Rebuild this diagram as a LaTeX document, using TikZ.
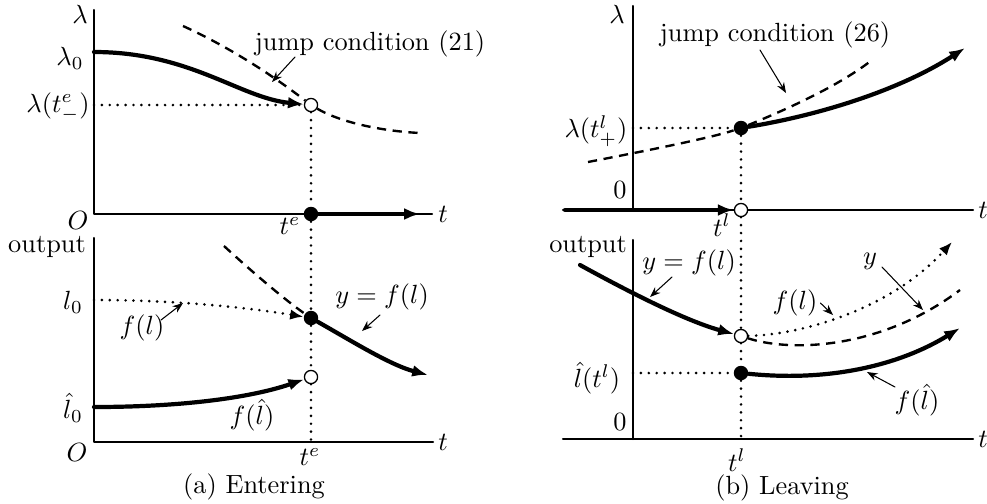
\documentclass[tikz,border=0pt]{standalone}
\usepackage{amsmath}
\usetikzlibrary{arrows.meta}

\begin{document}
\begin{tikzpicture}[x=0.38pt, y=-0.38pt, line cap=round, line join=round,
    every node/.style={inner sep=1pt},
    axis/.style={line width=0.8pt},
    curve/.style={line width=1.6pt},
    guide/.style={line width=1.1pt, dash pattern=on 0pt off 3pt, line cap=round},
    jump/.style={line width=0.9pt, dash pattern=on 3.5pt off 2.5pt, line cap=butt},
    tip/.style={-{Latex[length=6pt, width=4.5pt]}},
    pointer/.style={-{Stealth[length=4pt, width=3pt]}, line width=0.4pt},
    opendot/.style={circle, draw, fill=white, line width=0.5pt, inner sep=0pt, minimum size=5pt},
    fulldot/.style={circle, fill, inner sep=0pt, minimum size=5.5pt}]

    % picture size (pixels of the reference)
    \useasboundingbox (0,0) rectangle (987,503);

    % ---------- (a) entering, lambda panel ----------
    \draw[axis] (94,10) -- (94,214) -- (432,214);
    \node (aLam) at (80,14) {$\lambda$};
    \node (aT1) at (443,214) {$t$};
    \node (aO1) at (78,220) {$O$};
    \node (aLam0) at (70,58) {$\lambda_0$};
    \node (aLamE) at (58,107) {$\lambda(t^e_-)$};
    \node (aTe1) at (290,226) {$t^e$};

    \node[opendot] (aJump) at (311,105) {};
    \node[fulldot] (aEnter) at (311,214) {};

    % jump condition (dashed, behind the open dot)
    \draw[jump] (183,26) .. controls (240,52) and (285,85) .. (aJump);
    \draw[jump] (aJump) .. controls (340,122) and (380,131) .. (420,133);
    \draw[guide] (94,105) -- (aJump);
    \draw[curve, tip] (94,52) .. controls (190,52) and (240,98) .. (aJump);
    \draw[curve, tip] (aEnter) -- (420,214);

    \node (aJc) at (370,44) {jump condition (21)};
    \coordinate (aJcTail) at (295,57);
    \coordinate (aJcTip) at (272,82);
    \draw[pointer] (aJcTail) -- (aJcTip);

    % ---------- (a) entering, output panel ----------
    \draw[axis] (94,238) -- (94,442) -- (433,442);
    \node (aOut) at (47,247) {output};
    \node (aT2) at (443,442) {$t$};
    \node (aO2) at (77,452) {$O$};
    \node (aL0) at (73,302) {$l_0$};
    \node (aLh0) at (73,408) {$\hat{l}_0$};
    \node (aTe2) at (310,457) {$t^e$};
    \node (aCap) at (254,487) {(a) Entering};

    \node[fulldot] (aHit) at (311,318) {};
    \node[opendot] (aHat) at (311,377) {};

    \draw[jump] (224,246) .. controls (250,270) and (285,300) .. (aHit);
    \draw[guide, -{Latex[length=5pt, width=4pt]}] (94,300) .. controls (180,300) and (250,308) .. (aHit);
    \draw[curve, tip] (aHit) .. controls (350,340) and (390,365) .. (428,375);
    \draw[curve, tip] (94,407) .. controls (180,407) and (250,398) .. (aHat);

    \node (aFl) at (142,328) {$f(l)$};
    \coordinate (aFlTail) at (161,320);
    \coordinate (aFlTip) at (183,303);
    \draw[pointer] (aFlTail) -- (aFlTip);
    \node (aYf) at (382,297) {$y=f(l)$};
    \coordinate (aYfTail) at (380,315);
    \coordinate (aYfTip) at (362,331);
    \draw[pointer] (aYfTail) -- (aYfTip);
    \node (aFh) at (252,415) {$f(\hat{l})$};

    % dotted line at t^e
    \coordinate (aTeAxis) at (311,442);
    \draw[guide] (aJump) -- (aEnter);
    \draw[guide] (aEnter) -- (aHit);
    \draw[guide] (aHit) -- (aHat);
    \draw[guide] (aHat) -- (aTeAxis);

    % ---------- (b) leaving, lambda panel ----------
    \draw[axis] (633,6) -- (633,210);
    \draw[axis] (563,210) -- (973,210);
    \node (bLam) at (617,14) {$\lambda$};
    \node (bT1) at (983,210) {$t$};
    \node (bZero1) at (620,190) {$0$};
    \node (bLamL) at (596,131) {$\lambda(t^l_+)$};
    \node (bTl1) at (722,225) {$t^l$};

    \node[opendot] (bJump) at (741,210) {};
    \node[fulldot] (bLeave) at (741,128) {};

    \draw[jump] (588,162) .. controls (650,150) and (710,138) .. (bLeave);
    \draw[jump] (bLeave) .. controls (790,108) and (840,85) .. (872,60);
    \draw[guide] (633,128) -- (bLeave);
    \draw[curve, tip] (bLeave) .. controls (820,115) and (900,90) .. (965,48);
    \draw[curve, tip] (565,210) -- (bJump);

    \node (bJc) at (775,35) {jump condition (26)};
    \coordinate (bJcTail) at (760,50);
    \coordinate (bJcTip) at (786,93);
    \draw[pointer] (bJcTail) -- (bJcTip);

    % ---------- (b) leaving, output panel ----------
    \draw[axis] (633,240) -- (633,439);
    \draw[axis] (563,439) -- (973,439);
    \node (bOut) at (588,247) {output};
    \node (bT2) at (983,439) {$t$};
    \node (bZero2) at (620,422) {$0$};
    \node (bLh) at (597,378) {$\hat{l}(t^l)$};
    \node (bTl2) at (737,460) {$t^l$};
    \node (bCap) at (782,488) {(b) Leaving};

    \node[opendot] (bDrop) at (741,336) {};
    \node[fulldot] (bHat) at (741,373) {};

    \draw[curve, tip] (580,265) .. controls (640,298) and (690,322) .. (bDrop);
    \draw[jump] (bDrop) .. controls (790,352) and (880,350) .. (960,290);
    \draw[guide, -{Latex[length=5pt, width=4pt]}] (bDrop) .. controls (800,335) and (890,310) .. (952,242);
    \draw[guide] (633,373) -- (bHat);
    \draw[curve, tip] (bHat) .. controls (830,382) and (900,365) .. (960,328);

    \node (bYf) at (689,263) {$y=f(l)$};
    \coordinate (bYfTail) at (672,277);
    \coordinate (bYfTip) at (650,297);
    \draw[pointer] (bYfTail) -- (bYfTip);
    \node (bFl) at (795,303) {$f(l)$};
    \coordinate (bFlTip) at (833,315);
    \draw[pointer] (bFl.east) -- (bFlTip);
    \node (bY) at (870,261) {$y$};
    \coordinate (bYTail) at (882,267);
    \coordinate (bYTip) at (923,310);
    \draw[pointer] (bYTail) -- (bYTip);
    \node (bFh) at (917,400) {$f(\hat{l})$};
    \coordinate (bFhTail) at (895,387);
    \coordinate (bFhTip) at (867,372);
    \draw[pointer] (bFhTail) -- (bFhTip);

    % dotted line at t^l
    \coordinate (bTlAxis) at (741,439);
    \draw[guide] (bLeave) -- (bJump);
    \draw[guide] (bJump) -- (bDrop);
    \draw[guide] (bDrop) -- (bHat);
    \draw[guide] (bHat) -- (bTlAxis);

\end{tikzpicture}
\end{document}
